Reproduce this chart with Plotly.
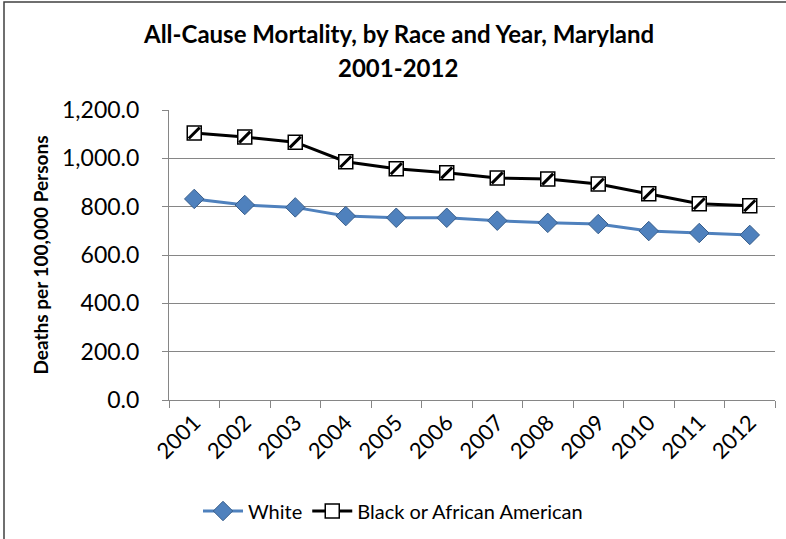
import plotly.graph_objects as go

years = ["2001", "2002", "2003", "2004", "2005", "2006", "2007", "2008", "2009", "2010", "2011", "2012"]
white = [832, 807, 797, 761, 754, 754, 742, 733, 728, 699, 691, 683]
black = [1105, 1088, 1067, 986, 957, 940, 919, 914, 894, 853, 812, 804]
y_ticks = [0, 200, 400, 600, 800, 1000, 1200]
y_tick_labels = ["0.0", "200.0", "400.0", "600.0", "800.0", "1,000.0", "1,200.0"]

FONT = "Lato"
W, H = 786, 539
L, R, T, B = 169, 11, 110, 139
PW, PH = W - L - R, H - T - B

fig = go.Figure()
fig.add_trace(go.Scatter(
    x=years, y=white, name="White", mode="lines+markers",
    line=dict(color="#4F81BD", width=3),
    marker=dict(symbol="diamond", size=15, color="#4F81BD", line=dict(color="#385D8A", width=1)),
))
fig.add_trace(go.Scatter(
    x=years, y=black, name="Black or African American", mode="lines+markers",
    line=dict(color="#000000", width=3), legendgroup="b",
    marker=dict(symbol="square", size=14, color="white", line=dict(color="black", width=1.5)),
))
fig.add_trace(go.Scatter(
    x=years, y=black, mode="markers", showlegend=False, legendgroup="b", hoverinfo="skip",
    marker=dict(symbol="line-ne", size=11, line=dict(color="black", width=3)),
))


def px_to_paper_x(px):
    return (px - L) / PW


def px_to_paper_y(py):
    return (H - B - py) / PH


fig.update_layout(
    width=W, height=H,
    margin=dict(l=L, r=R, t=T, b=B),
    paper_bgcolor="white", plot_bgcolor="white",
    font=dict(family=FONT, color="black"),
    showlegend=True,
    legend=dict(orientation="h", x=0.5, xanchor="center", xref="container",
                y=1 - 511 / H, yanchor="middle", yref="container",
                font=dict(size=20, family=FONT), itemwidth=40, tracegroupgap=0),
    xaxis=dict(type="category", range=[-0.5, 11.5], showline=True, linecolor="#868686", linewidth=1,
               ticks="outside", ticklen=7, tickcolor="#868686", tickson="boundaries",
               tickangle=-45, tickfont=dict(size=22, family=FONT), showgrid=False),
    yaxis=dict(range=[0, 1200], tickvals=y_ticks, ticktext=y_tick_labels,
               showline=True, linecolor="#868686", linewidth=1,
               ticks="outside", ticklen=6, tickcolor="#868686", ticklabelstandoff=18,
               showgrid=True, gridcolor="#868686", gridwidth=1,
               tickfont=dict(size=23, family=FONT), zeroline=False,
               title=dict(text="<b>Deaths per 100,000 Persons</b>", font=dict(size=19, family=FONT), standoff=8)),
    annotations=[
        dict(text="<b>All-Cause Mortality, by Race and Year, Maryland</b>",
             x=px_to_paper_x(398), y=px_to_paper_y(33),
             xref="paper", yref="paper", showarrow=False, xanchor="center", yanchor="middle",
             font=dict(size=24, family=FONT)),
        dict(text="<b>2001-2012</b>", x=px_to_paper_x(398), y=px_to_paper_y(68),
             xref="paper", yref="paper", showarrow=False, xanchor="center", yanchor="middle",
             font=dict(size=24, family=FONT)),
    ],
    shapes=[dict(type="rect", xref="paper", yref="paper",
                 x0=px_to_paper_x(4), x1=px_to_paper_x(W + 5),
                 y0=px_to_paper_y(H + 5), y1=px_to_paper_y(2),
                 line=dict(color="#404040", width=1.5), layer="above")],
)

fig.write_html("out.html")
